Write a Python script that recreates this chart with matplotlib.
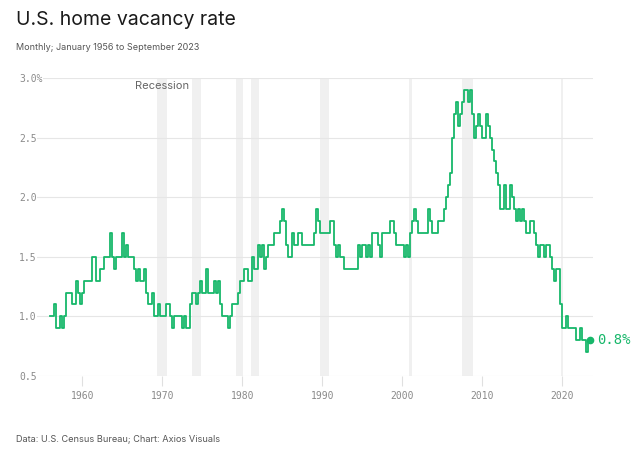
import matplotlib.pyplot as plt
import numpy as np

# Quarterly homeowner vacancy rate (%), 1956 Q1 to 2023 Q3
vacancy = [
    1.0, 1.0, 1.1, 0.9,  # 1956
    0.9, 1.0, 0.9, 1.0,
    1.2, 1.2, 1.2, 1.1,
    1.1, 1.3, 1.2, 1.1,
    1.2, 1.3, 1.3, 1.3,  # 1960
    1.3, 1.5, 1.5, 1.3,
    1.3, 1.4, 1.4, 1.5,
    1.5, 1.5, 1.7, 1.5,
    1.4, 1.5, 1.5, 1.5,
    1.7, 1.5, 1.6, 1.5,
    1.5, 1.5, 1.4, 1.3,
    1.4, 1.3, 1.3, 1.4,
    1.2, 1.1, 1.1, 1.2,
    1.0, 1.0, 1.1, 1.0,
    1.0, 1.0, 1.1, 1.1,  # 1970
    1.0, 0.9, 1.0, 1.0,
    1.0, 1.0, 0.9, 1.0,
    0.9, 0.9, 1.1, 1.2,
    1.2, 1.1, 1.2, 1.3,
    1.2, 1.2, 1.4, 1.2,
    1.2, 1.2, 1.3, 1.2,
    1.3, 1.1, 1.0, 1.0,
    1.0, 0.9, 1.0, 1.1,
    1.1, 1.1, 1.2, 1.3,
    1.3, 1.4, 1.4, 1.3,  # 1980
    1.3, 1.5, 1.4, 1.4,
    1.6, 1.5, 1.6, 1.4,
    1.5, 1.6, 1.6, 1.6,
    1.7, 1.7, 1.7, 1.8,
    1.9, 1.8, 1.6, 1.5,
    1.5, 1.7, 1.6, 1.6,
    1.7, 1.7, 1.6, 1.6,
    1.6, 1.6, 1.6, 1.6,
    1.7, 1.9, 1.8, 1.7,
    1.7, 1.7, 1.7, 1.7,  # 1990
    1.8, 1.8, 1.6, 1.5,
    1.6, 1.5, 1.5, 1.4,
    1.4, 1.4, 1.4, 1.4,
    1.4, 1.4, 1.6, 1.5,
    1.6, 1.6, 1.5, 1.6,
    1.5, 1.7, 1.7, 1.7,
    1.6, 1.5, 1.7, 1.7,
    1.7, 1.7, 1.8, 1.8,
    1.7, 1.6, 1.6, 1.6,
    1.6, 1.5, 1.6, 1.5,  # 2000
    1.7, 1.8, 1.9, 1.8,
    1.7, 1.7, 1.7, 1.7,
    1.7, 1.9, 1.8, 1.7,
    1.7, 1.7, 1.8, 1.8,
    1.8, 1.9, 2.0, 2.1,
    2.2, 2.5, 2.7, 2.8,
    2.6, 2.7, 2.8, 2.9,
    2.9, 2.8, 2.9, 2.7,
    2.5, 2.6, 2.7, 2.6,
    2.5, 2.5, 2.7, 2.6,  # 2010
    2.5, 2.4, 2.3, 2.2,
    2.1, 1.9, 1.9, 2.1,
    1.9, 1.9, 2.1, 2.0,
    1.9, 1.8, 1.9, 1.8,
    1.9, 1.8, 1.7, 1.7,
    1.8, 1.8, 1.7, 1.6,
    1.5, 1.6, 1.6, 1.5,
    1.6, 1.6, 1.5, 1.4,
    1.3, 1.4, 1.4, 1.1,
    0.9, 0.9, 1.0, 0.9,  # 2020
    0.9, 0.9, 0.9, 0.8,
    0.8, 0.9, 0.8, 0.8,
    0.7, 0.8, 0.8,
]
quarters = 1956 + np.arange(len(vacancy)) * 0.25

# Recession shading (start, end), as drawn on the chart
recessions = [(1969.3, 1970.6), (1973.75, 1974.9), (1979.2, 1980.1),
              (1981.1, 1982.1), (1989.7, 1990.8), (2000.9, 2001.2),
              (2007.5, 2008.9), (2019.9, 2020.15)]

y_ticks = [0.5, 1.0, 1.5, 2.0, 2.5, 3.0]
y_labels = ["0.5", "1.0", "1.5", "2.0", "2.5", "3.0%"]
x_ticks = [1960, 1970, 1980, 1990, 2000, 2010, 2020]

green = "#17b76a"
mono = "DejaVu Sans Mono"
sans = "Inter"

fig = plt.figure(figsize=(6.4, 4.49), dpi=100)
ax = fig.add_axes([0.058, 0.1626, 0.8688, 0.6637])

for start, end in recessions:
    ax.axvspan(start, end, color="#f0f0f0", lw=0, zorder=0)

ax.plot(quarters, vacancy, drawstyle="steps-post", color=green, lw=1.3, zorder=3)
ax.plot(quarters[-1], vacancy[-1], "o", color=green, ms=4.5, zorder=4, clip_on=False)
ax.text(2024.4, vacancy[-1], "%.1f%%" % vacancy[-1], color=green, family=mono,
        fontsize=10, ha="left", va="center", clip_on=False)

ax.text(1970, 2.93, "Recession", color="#666666", family=sans, fontsize=8,
        ha="center", va="center")

ax.set_xlim(1954.375, 2023.875)
ax.set_ylim(0.5, 3.0)
ax.set_yticks(y_ticks)
ax.set_yticklabels(y_labels)
ax.set_xticks(x_ticks)
ax.set_xticklabels([str(x) for x in x_ticks])

ax.grid(axis="y", color="#e6e6e6", lw=0.8)
ax.set_axisbelow(True)
for s in ax.spines.values():
    s.set_visible(False)

ax.tick_params(axis="y", length=0, pad=13, labelsize=7, labelcolor="#8a8a8a")
ax.tick_params(axis="x", length=7, width=0.8, color="#e0e0e0", pad=4,
               labelsize=7, labelcolor="#8a8a8a")
for lab in ax.get_yticklabels():
    lab.set_horizontalalignment("left")
    lab.set_family(mono)
    lab.set_bbox(dict(facecolor="white", edgecolor="none", pad=0.5))
for lab in ax.get_xticklabels():
    lab.set_family(mono)

fig.text(0.025, 0.944, "U.S. home vacancy rate", family=sans, fontsize=14,
         color="#1a1a1a", va="baseline")
fig.text(0.025, 0.889, "Monthly; January 1956 to September 2023", family=sans,
         fontsize=6.5, color="#555555", va="baseline")
fig.text(0.025, 0.016, "Data: U.S. Census Bureau; Chart: Axios Visuals", family=sans,
         fontsize=6.6, color="#555555", va="baseline")

fig.savefig("out.png", dpi=100)
